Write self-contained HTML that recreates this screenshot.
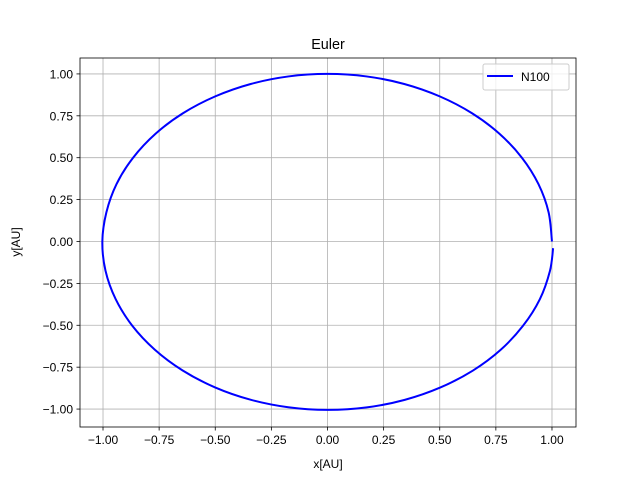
<!DOCTYPE html>
<html><head><meta charset="utf-8"><style>
body{margin:0;background:#fff}
svg text{font-family:"Liberation Sans","DejaVu Sans",sans-serif;fill:#000}
</style></head><body>
<svg id="chart" width="640" height="480" viewBox="0 0 640 480">
<rect width="640" height="480" fill="#fff"/>
<text x="328" y="49" font-size="14.4" text-anchor="middle">Euler</text>
<g id="grid"></g>
<g id="ticks"></g>
<path id="orbit" fill="none" stroke="#0000ff" stroke-width="2"/>
<rect x="80" y="58" width="496" height="369" fill="none" stroke="#000" stroke-width="0.8"/>
<text x="328" y="468" font-size="12" text-anchor="middle">x[AU]</text>
<text x="20" y="242" font-size="12" text-anchor="middle" transform="rotate(-90 20 242)">y[AU]</text>
<g>
<rect x="483" y="64" width="86" height="26" rx="2" fill="#fff" fill-opacity="0.8" stroke="#ccc"/>
<line x1="487" y1="76" x2="513" y2="76" stroke="#0000ff" stroke-width="2"/>
<text x="521" y="81" font-size="12">N100</text>
</g>
</svg>
<script>
const xTicks=[-1.0,-0.75,-0.5,-0.25,0,0.25,0.5,0.75,1.0];
const xTickLabels=["−1.00","−0.75","−0.50","−0.25","0.00","0.25","0.50","0.75","1.00"];
const yTicks=[-1.0,-0.75,-0.5,-0.25,0,0.25,0.5,0.75,1.0];
const yTickLabels=["−1.00","−0.75","−0.50","−0.25","0.00","0.25","0.50","0.75","1.00"];
const orbitX=[1.000,0.985,0.940,0.866,0.766,0.643,0.500,0.342,0.174,0.000,-0.174,-0.342,-0.500,-0.643,-0.766,-0.866,-0.940,-0.985,-1.003,-0.989,-0.944,-0.870,-0.769,-0.646,-0.502,-0.343,-0.175,0.000,0.175,0.344,0.503,0.647,0.771,0.871,0.946,0.991,1.005];
const orbitY=[0.000,0.174,0.342,0.500,0.643,0.766,0.866,0.940,0.985,1.000,0.985,0.940,0.866,0.766,0.643,0.500,0.342,0.174,0.000,-0.174,-0.343,-0.502,-0.646,-0.769,-0.870,-0.944,-0.989,-1.005,-0.990,-0.945,-0.871,-0.771,-0.647,-0.503,-0.344,-0.175,-0.040];
const X0=80,X1=576,Y0=58,Y1=427,xmin=-1.1025,xmax=1.107,ymin=-1.107,ymax=1.095;
const sx=v=>X0+(v-xmin)/(xmax-xmin)*(X1-X0);
const sy=v=>Y1-(v-ymin)/(ymax-ymin)*(Y1-Y0);
const NS="http://www.w3.org/2000/svg";
const grid=document.getElementById('grid'),ticks=document.getElementById('ticks');
function mk(tag,attrs,parent){const e=document.createElementNS(NS,tag);for(const k in attrs)e.setAttribute(k,attrs[k]);parent.appendChild(e);return e;}
xTicks.forEach((v,i)=>{const x=sx(v);
 const g=mk('line',{x1:x,x2:x,y1:Y0,y2:Y1,stroke:'#b0b0b0','stroke-width':0.8},grid);
 
 
 const t=mk('line',{x1:x,x2:x,y1:Y1,y2:Y1+3.5,stroke:'#000','stroke-width':0.8},ticks);
 
 
 const l=mk('text',{x:x,y:Y1+17,'font-size':12,'text-anchor':'middle'},ticks);l.textContent=xTickLabels[i];
 
 
});
yTicks.forEach((v,i)=>{const y=sy(v);
 const g=mk('line',{x1:X0,x2:X1,y1:y,y2:y,stroke:'#b0b0b0','stroke-width':0.8},grid);
 
 
 const t=mk('line',{x1:X0-3.5,x2:X0,y1:y,y2:y,stroke:'#000','stroke-width':0.8},ticks);
 
 
 const l=mk('text',{x:X0-7,y:y+4.5,'font-size':12,'text-anchor':'end'},ticks);l.textContent=yTickLabels[i];
 
 
});
const P=orbitX.map((v,i)=>[sx(v),sy(orbitY[i])]);
let d='M'+P[0][0]+','+P[0][1];
for(let i=0;i<P.length-1;i++){const p0=P[Math.max(i-1,0)],p1=P[i],p2=P[i+1],p3=P[Math.min(i+2,P.length-1)];
 const c1=[p1[0]+(p2[0]-p0[0])/6,p1[1]+(p2[1]-p0[1])/6],c2=[p2[0]-(p3[0]-p1[0])/6,p2[1]-(p3[1]-p1[1])/6];
 d+=' C'+c1+' '+c2+' '+p2;}
document.getElementById('orbit').setAttribute('d',d);
</script>
</body></html>
